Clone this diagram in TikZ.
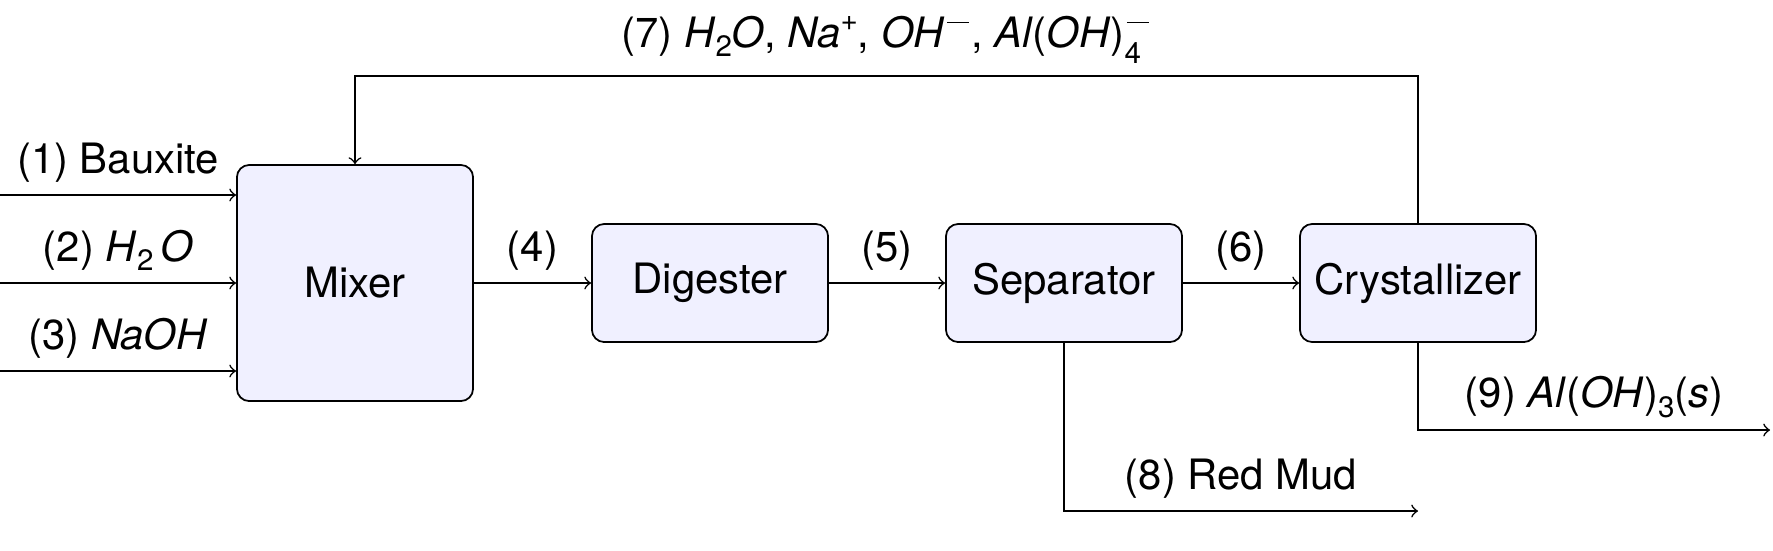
\documentclass[tikz,border=0pt]{standalone}
\usepackage{fontspec}
\setmainfont{TeX Gyre Heros}
\usetikzlibrary{arrows}
\newcommand\scr[1]{{\fontsize{8.4}{8.4}\selectfont #1}}
\newcommand\lowsub[1]{\raisebox{-0.22em}{\scr{#1}}}
\newcommand\hisup[1]{\raisebox{0.42em}{\scr{#1}}}
\newcommand\supminus{\kern0.05em\raisebox{0.58em}{\rule{0.52em}{0.04em}}\kern0.05em}
\newcommand\subminus[1]{\mbox{\rlap{\supminus}\raisebox{-0.38em}{\scr{#1}}\kern0.25em}}
\begin{document}
\begin{tikzpicture}[x=0.01cm,y=-0.01cm,
  font=\fontsize{11.9}{14.3}\selectfont,
  line width=0.45pt, >=to,
  unit/.style={draw, rounded corners=3.5pt, fill=blue!6,
    minimum width=2.36cm, minimum height=1.18cm, inner sep=0pt, line width=0.5pt}]
\useasboundingbox (0,0) rectangle (1773,550);
\node[unit, minimum height=2.36cm] (mix) at (355,283) {Mixer};
\node[unit] (dig) at (710,283) {Digester};
\node[unit] (sep) at (1064,283) {Separator};
\node[unit] (cry) at (1418,283) {Crystallizer};
\coordinate (in1) at (0,195);
\coordinate (in2) at (0,283);
\coordinate (in3) at (0,371);
\coordinate (top) at (0,76);
\coordinate (mud) at (0,511);
\coordinate (prod) at (1770,430);
\draw[->] (in1) -- node[above] {(1) Bauxite} (in1 -| mix.west);
\draw[->] (in2) -- node[above] {(2) \textit{H}\lowsub{2}\,\textit{O}} (in2 -| mix.west);
\draw[->] (in3) -- node[above] {(3) \textit{NaOH}} (in3 -| mix.west);
\draw[->] (mix) -- node[above] {(4)} (dig);
\draw[->] (dig) -- node[above] {(5)} (sep);
\draw[->] (sep) -- node[above] {(6)} (cry);
\draw[->] (cry.north) -- (cry.north |- top) -- node[above] {(7) \textit{H}\lowsub{2}\textit{O}, \textit{Na}\hisup{+}, \textit{OH}\supminus, \textit{Al}(\textit{OH})\subminus{4}} (mix.north |- top) -- (mix.north);
\draw[->] (sep.south) -- (sep.south |- mud) -- node[above] {(8) Red Mud} (cry.south |- mud);
\draw[->] (cry.south) -- (cry.south |- prod) -- node[above] {(9) \textit{Al}(\textit{OH})\lowsub{3}(\textit{s})} (prod);
\end{tikzpicture}
\end{document}
